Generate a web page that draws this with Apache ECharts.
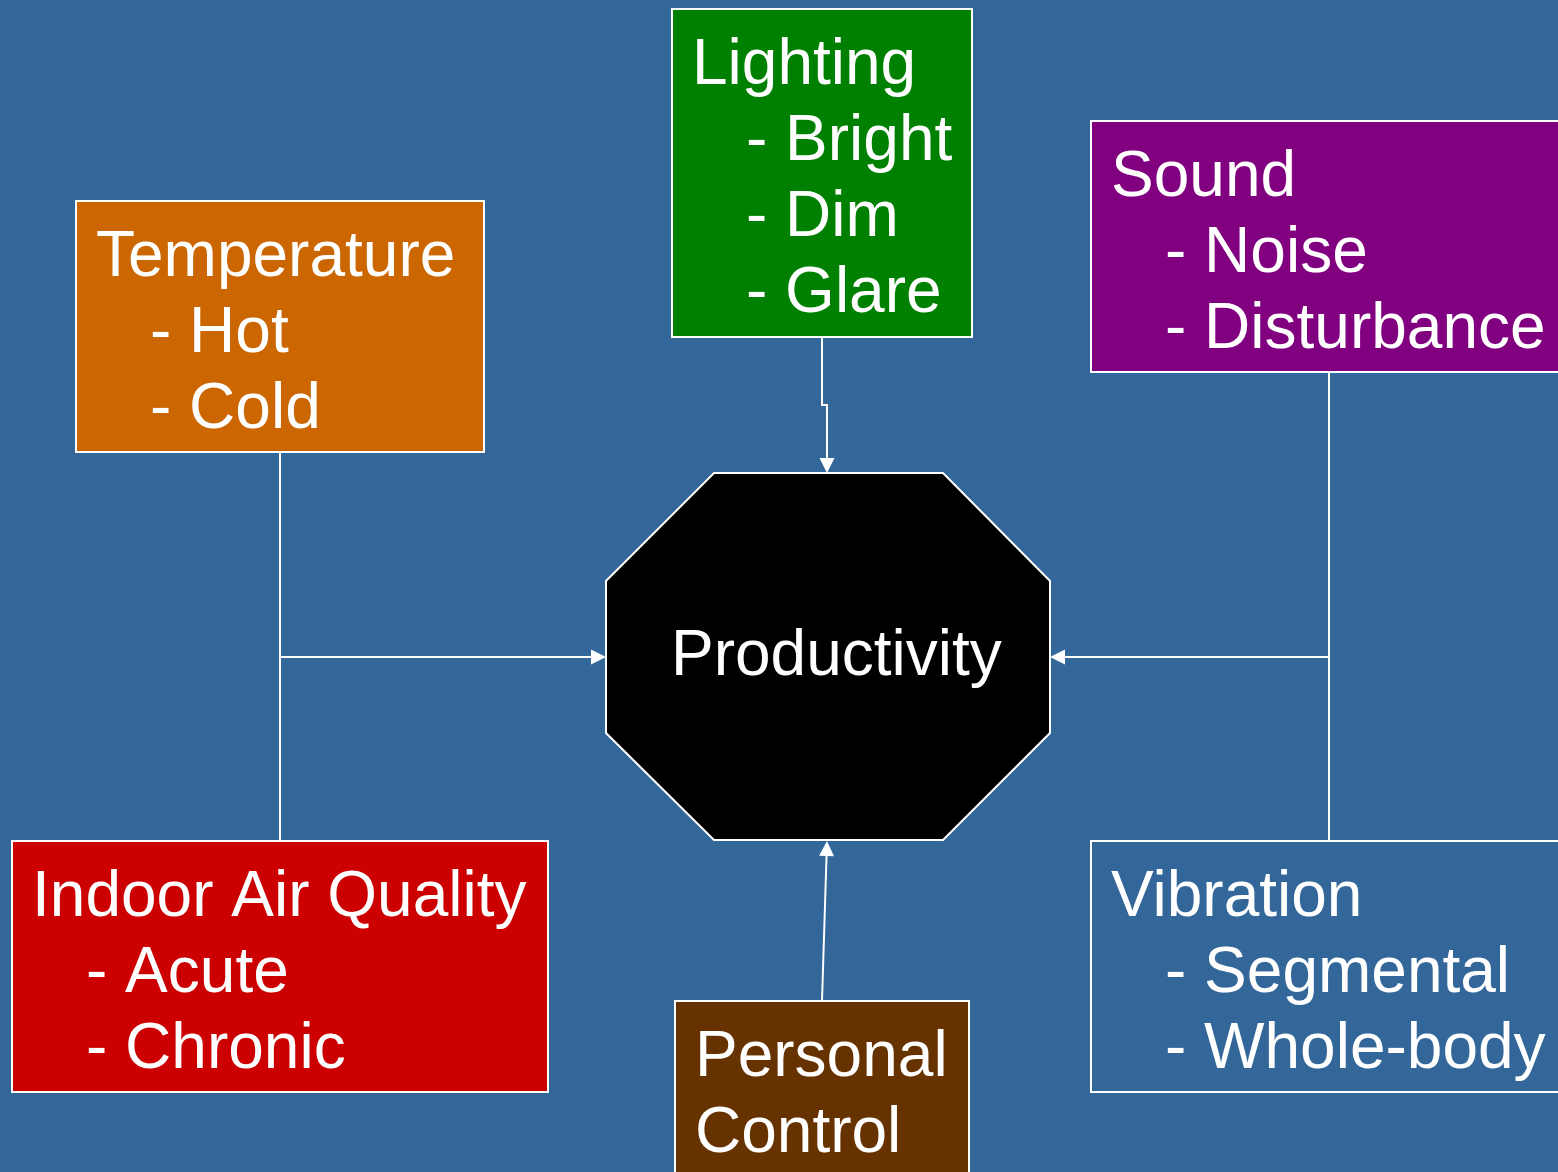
<!DOCTYPE html>
<html>
<head>
<meta charset="utf-8">
<script src="https://cdn.jsdelivr.net/npm/echarts@6/dist/echarts.min.js"></script>
<style>
html,body{margin:0;padding:0;background:#336699;}
#chart{width:1558px;height:1172px;}
</style>
</head>
<body>
<div id="chart"></div>
<script>
// ---- content ----
const boxNames = ['Temperature', 'Lighting', 'Sound', 'Indoor Air Quality', 'Personal Control', 'Vibration'];
const boxLines = [
  ['Temperature', '- Hot', '- Cold'],
  ['Lighting', '- Bright', '- Dim', '- Glare'],
  ['Sound', '- Noise', '- Disturbance'],
  ['Indoor Air Quality', '- Acute', '- Chronic'],
  ['Personal', 'Control'],
  ['Vibration', '- Segmental', '- Whole-body']
];
const centerLabel = 'Productivity';

// ---- layout (diagram coordinates) ----
const boxLeft   = [76, 672, 1091, 12, 675, 1091];
const boxTop    = [201, 9, 121, 841, 1001, 841];
const boxRight  = [484, 972, 1566, 548, 969, 1566];
const boxBottom = [452, 337, 372, 1092, 1180, 1092];
const octagonX = [714, 943, 1050, 1050, 943, 714, 606, 606];
const octagonY = [473, 473, 581, 733, 840, 840, 733, 581];
const connectors = [
  { pts: [[280, 452], [280, 841]], arrow: false },
  { pts: [[280, 657], [606, 657]], arrow: true },
  { pts: [[1329, 372], [1329, 841]], arrow: false },
  { pts: [[1329, 657], [1050, 657]], arrow: true },
  { pts: [[822, 337], [822, 405], [827, 405], [827, 473]], arrow: true },
  { pts: [[822, 1001], [827, 841]], arrow: true }
];

// ---- styles ----
const boxColors = ['#CC6600', '#008000', '#800080', '#CC0000', '#663300', '#336699'];
const FONT = '"Liberation Sans", Arial, Helvetica, sans-serif';
const FS = 64;
const BASE_SHIFT = 48; // distance from text top to baseline for FS

const chart = echarts.init(document.getElementById('chart'), null, { renderer: 'canvas' });

const boxData = boxNames.map((n, i) => [boxLeft[i], boxTop[i], boxRight[i], boxBottom[i]]);

function textEl(x, baselineY, t) {
  return {
    type: 'text', x: x, y: baselineY - BASE_SHIFT,
    style: { text: t, fill: '#ffffff', font: FS + 'px ' + FONT, verticalAlign: 'top', align: 'left' }
  };
}

function renderBox(params, api) {
  const i = params.dataIndex;
  const p0 = api.coord([api.value(0), api.value(1)]);
  const p1 = api.coord([api.value(2), api.value(3)]);
  const children = [{
    type: 'rect',
    shape: { x: p0[0], y: p0[1], width: p1[0] - p0[0], height: p1[1] - p0[1] },
    style: { fill: boxColors[i], stroke: '#ffffff', lineWidth: 2 }
  }];
  boxLines[i].forEach((t, k) => {
    const indent = t.startsWith('- ') ? 74 : 20;
    children.push(textEl(p0[0] + indent, p0[1] + 73 + k * 76, t));
  });
  return { type: 'group', children };
}

function renderOctagon(params, api) {
  const pts = octagonX.map((x, k) => api.coord([x, octagonY[k]]));
  const c0 = api.coord([606, 673]);
  return {
    type: 'group',
    children: [
      { type: 'polygon', shape: { points: pts }, style: { fill: '#000000', stroke: '#ffffff', lineWidth: 2 } },
      textEl(c0[0] + 65, c0[1], centerLabel)
    ]
  };
}

function renderConnector(params, api) {
  const c = connectors[params.dataIndex];
  const pts = c.pts.map(p => api.coord(p));
  const children = [];
  if (c.arrow) {
    const a = pts[pts.length - 1], b = pts[pts.length - 2];
    const dx = a[0] - b[0], dy = a[1] - b[1];
    const len = Math.sqrt(dx * dx + dy * dy);
    const ux = dx / len, uy = dy / len;
    const L = 15, W = 7.5;
    const base = [a[0] - ux * L, a[1] - uy * L];
    const linePts = pts.slice(0, -1).concat([base]);
    children.push({ type: 'polyline', shape: { points: linePts }, style: { stroke: '#ffffff', lineWidth: 2, fill: null } });
    children.push({ type: 'polygon', shape: { points: [a, [base[0] - uy * W, base[1] + ux * W], [base[0] + uy * W, base[1] - ux * W]] },
      style: { fill: '#ffffff' } });
  } else {
    children.push({ type: 'polyline', shape: { points: pts }, style: { stroke: '#ffffff', lineWidth: 2, fill: null } });
  }
  return { type: 'group', children };
}

chart.setOption({
  backgroundColor: '#336699',
  animation: false,
  grid: { left: 0, right: 0, top: 0, bottom: 0 },
  xAxis: { type: 'value', min: 0, max: 1558, show: false },
  yAxis: { type: 'value', min: 0, max: 1172, inverse: true, show: false },
  series: [
    { type: 'custom', renderItem: renderConnector, data: connectors.map(c => c.pts[0]), clip: false, z: 1 },
    { type: 'custom', renderItem: renderOctagon, data: [[828, 656]], clip: false, z: 2 },
    { type: 'custom', renderItem: renderBox, data: boxData, encode: { x: [0, 2], y: [1, 3] }, clip: false, z: 3 }
  ]
});
</script>
</body>
</html>
